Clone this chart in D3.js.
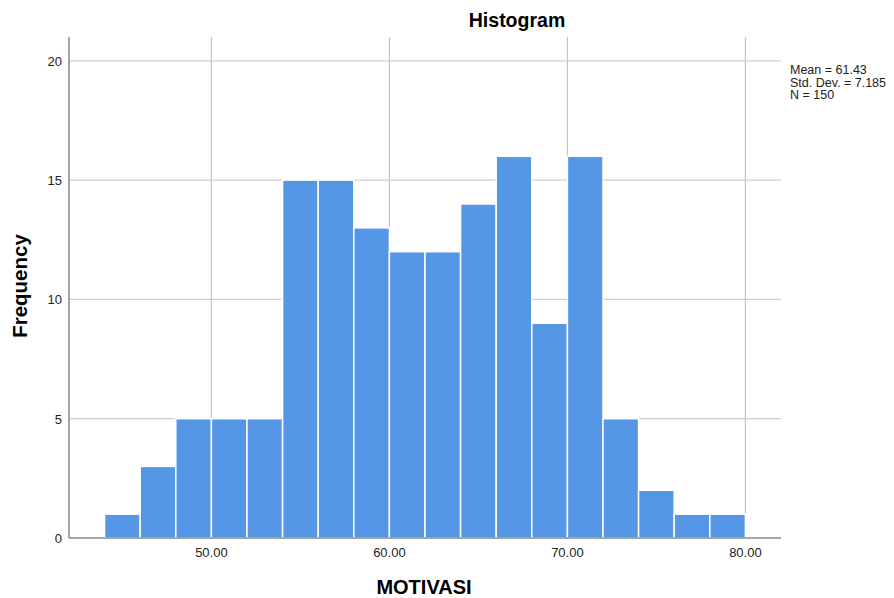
<!DOCTYPE html>
<html>
<head>
<meta charset="utf-8">
<script src="https://cdn.jsdelivr.net/npm/d3@7"></script>
<style>
  body { margin: 0; background: #fff; }
  text { font-family: "Liberation Sans", Arial, sans-serif; }
</style>
</head>
<body>
<div id="chart"></div>
<script>
// bin edges (width 2) and counts
var binStarts = [44, 46, 48, 50, 52, 54, 56, 58, 60, 62, 64, 66, 68, 70, 72, 74, 76, 78];
var counts = [1, 3, 5, 5, 5, 15, 15, 13, 12, 12, 14, 16, 9, 16, 5, 2, 1, 1];
var binWidth = 2;
var xTicks = [50, 60, 70, 80];
var yTicks = [0, 5, 10, 15, 20];
var stats = ["Mean = 61.43", "Std. Dev. = 7.185", "N = 150"];

var W = 894, H = 598;
// plot area edges (note: "top" is reserved on window, so prefix these)
var plotLeft = 69, plotRight = 781, plotTop = 37, plotBottom = 538;

var svg = d3.select("#chart").append("svg")
    .attr("width", W)
    .attr("height", H);

var x = d3.scaleLinear().domain([42, 82]).range([plotLeft, plotRight]);
var y = d3.scaleLinear().domain([0, 21]).range([plotBottom, plotTop]);

// grid lines behind the bars
svg.selectAll("line.hgrid")
    .data(yTicks.filter(function (d) { return d > 0; }))
    .enter().append("line")
    .attr("x1", plotLeft).attr("x2", plotRight)
    .attr("y1", function (d) { return y(d); })
    .attr("y2", function (d) { return y(d); })
    .style("stroke", "#cfcfcf")
    .style("stroke-width", 1.2);

svg.selectAll("line.vgrid")
    .data(xTicks)
    .enter().append("line")
    .attr("y1", plotTop).attr("y2", plotBottom)
    .attr("x1", function (d) { return x(d); })
    .attr("x2", function (d) { return x(d); })
    .style("stroke", "#c4c4c4")
    .style("stroke-width", 1.2);

// bars
var data = binStarts.map(function (s, i) { return { x0: s, n: counts[i] }; });
svg.selectAll("rect.bar")
    .data(data)
    .enter().append("rect")
    .attr("x", function (d) { return x(d.x0); })
    .attr("width", function (d) { return x(d.x0 + binWidth) - x(d.x0); })
    .attr("y", function (d) { return y(d.n); })
    .attr("height", function (d) { return y(0) - y(d.n); })
    .style("fill", "#5596e6")
    .style("stroke", "#ffffff")
    .style("stroke-width", 1.5);

// axes lines
svg.append("line")
    .attr("x1", plotLeft).attr("x2", plotLeft)
    .attr("y1", plotTop).attr("y2", plotBottom)
    .style("stroke", "#888").style("stroke-width", 1.5);
svg.append("line")
    .attr("x1", plotLeft).attr("x2", plotRight)
    .attr("y1", plotBottom).attr("y2", plotBottom)
    .style("stroke", "#888").style("stroke-width", 1.5);

// tick labels
svg.selectAll("text.ytick")
    .data(yTicks)
    .enter().append("text")
    .attr("x", plotLeft - 7)
    .attr("y", function (d) { return y(d) + 5; })
    .attr("text-anchor", "end")
    .style("font-size", "13px")
    .style("fill", "#222")
    .text(function (d) { return d; });

svg.selectAll("text.xtick")
    .data(xTicks)
    .enter().append("text")
    .attr("x", function (d) { return x(d); })
    .attr("y", 557)
    .attr("text-anchor", "middle")
    .style("font-size", "13px")
    .style("fill", "#222")
    .text(function (d) { return d.toFixed(2); });

// titles
svg.append("text")
    .attr("x", 517).attr("y", 27)
    .attr("text-anchor", "middle")
    .style("font-size", "19.5px")
    .style("font-weight", "bold")
    .text("Histogram");

svg.append("text")
    .attr("x", 424).attr("y", 594)
    .attr("text-anchor", "middle")
    .style("font-size", "20px")
    .style("font-weight", "bold")
    .text("MOTIVASI");

svg.append("text")
    .attr("transform", "translate(27," + 286 + ") rotate(-90)")
    .attr("text-anchor", "middle")
    .style("font-size", "20.5px")
    .style("font-weight", "bold")
    .text("Frequency");

// stats box
svg.selectAll("text.stat")
    .data(stats)
    .enter().append("text")
    .attr("x", 790)
    .attr("y", function (d, i) { return 74 + i * 12.5; })
    .style("font-size", "12.5px")
    .style("fill", "#222")
    .text(function (d) { return d; });
</script>
</body>
</html>
